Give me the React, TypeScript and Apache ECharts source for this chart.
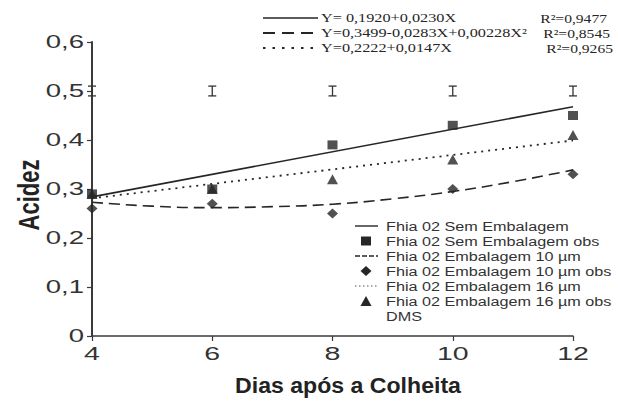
import React, { useEffect, useRef } from "react";
import * as echarts from "echarts";

const days = [4, 6, 8, 10, 12];
const semEmbObs = [0.29, 0.30, 0.39, 0.43, 0.45];
const emb10Obs = [0.26, 0.27, 0.25, 0.30, 0.33];
const emb16Obs = [0.29, 0.30, 0.32, 0.36, 0.41];

const semEmbFitX = [4, 12];
const semEmbFit = [0.284, 0.468];
const emb10FitX = [4, 5, 6, 7, 8, 9, 10, 11, 12];
const emb10Fit = [0.273, 0.265, 0.262, 0.264, 0.269, 0.280, 0.295, 0.315, 0.339];
const emb16FitX = [4, 12];
const emb16Fit = [0.281, 0.399];

const dmsLow = [0.49, 0.49, 0.49, 0.49, 0.49];
const dmsHigh = [0.51, 0.51, 0.51, 0.51, 0.51];

const xTicks = [4, 6, 8, 10, 12];
const xTickLabels = ["4", "6", "8", "10", "12"];
const yTicks = [0, 0.1, 0.2, 0.3, 0.4, 0.5, 0.6];
const yTickLabels = ["0", "0,1", "0,2", "0,3", "0,4", "0,5", "0,6"];

const xTitle = "Dias após a Colheita";
const yTitle = "Acidez";

const seriesNames = [
  "Fhia 02 Sem Embalagem",
  "Fhia 02 Sem Embalagem obs",
  "Fhia 02 Embalagem 10 µm",
  "Fhia 02 Embalagem 10 µm obs",
  "Fhia 02 Embalagem 16 µm",
  "Fhia 02 Embalagem 16 µm obs",
];
const dmsName = "DMS";

const equations = [
  "Y= 0,1920+0,0230X",
  "Y=0,3499-0,0283X+0,00228X²",
  "Y=0,2222+0,0147X",
];
const r2Labels = ["R²=0,9477", "R²=0,8545", "R²=0,9265"];

const INK = "#262626";
const SANS = "'Liberation Sans', Arial, sans-serif";
const SERIF = "'Liberation Serif', 'Times New Roman', serif";

export default function App() {
  const ref = useRef<HTMLDivElement>(null);
  useEffect(() => {
    if (!ref.current) return;
    const chart = echarts.init(ref.current, undefined, { renderer: "svg" });
    const zip = (xs: number[], ys: number[]) => xs.map((x, i) => [x, ys[i]]);

    chart.setOption({
      animation: false,
      backgroundColor: "#fff",
      grid: { left: 92, right: 45, top: 42, bottom: 67 },
      xAxis: {
        type: "value",
        min: 4,
        max: 12,
        interval: 2,
        splitLine: { show: false },
        axisLine: { lineStyle: { color: "#3a3a3a", width: 1.5 } },
        axisTick: { show: true, length: 5, lineStyle: { color: "#3a3a3a", width: 1.2 } },
        axisLabel: { show: false },
      },
      yAxis: {
        type: "value",
        min: 0,
        max: 0.6,
        interval: 0.1,
        splitLine: { show: false },
        axisLine: { show: true, lineStyle: { color: "#3a3a3a", width: 2 } },
        axisTick: { show: true, length: 5, lineStyle: { color: "#3a3a3a", width: 1.2 } },
        axisLabel: { show: false },
      },
      series: [
        {
          name: seriesNames[0],
          type: "line",
          data: zip(semEmbFitX, semEmbFit),
          symbol: "none",
          lineStyle: { color: INK, width: 1.6 },
          itemStyle: { color: INK },
        },
        {
          name: seriesNames[1],
          type: "scatter",
          data: zip(days, semEmbObs),
          symbol: "rect",
          symbolSize: [10, 9],
          itemStyle: { color: INK },
        },
        {
          name: seriesNames[2],
          type: "line",
          data: zip(emb10FitX, emb10Fit),
          smooth: true,
          symbol: "none",
          lineStyle: { color: INK, width: 1.6, type: [11, 6] },
          itemStyle: { color: INK },
        },
        {
          name: seriesNames[3],
          type: "scatter",
          data: zip(days, emb10Obs),
          symbol: "diamond",
          symbolSize: [11, 10],
          itemStyle: { color: INK },
        },
        {
          name: seriesNames[4],
          type: "line",
          data: zip(emb16FitX, emb16Fit),
          symbol: "none",
          lineStyle: { color: INK, width: 1.8, type: [2, 5] },
          itemStyle: { color: INK },
        },
        {
          name: seriesNames[5],
          type: "scatter",
          data: zip(days, emb16Obs),
          symbol: "triangle",
          symbolSize: [11, 10],
          itemStyle: { color: INK },
        },
        {
          name: dmsName,
          type: "custom",
          clip: false,
          data: days.map((d, i) => [d, dmsLow[i], dmsHigh[i]]),
          renderItem: (params: any, api: any) => {
            const x = api.value(0);
            const lo = api.coord([x, api.value(1)]);
            const hi = api.coord([x, api.value(2)]);
            const w = 4;
            const st = { stroke: "#333", lineWidth: 1.3 };
            return {
              type: "group",
              children: [
                { type: "line", shape: { x1: lo[0], y1: lo[1], x2: hi[0], y2: hi[1] }, style: st },
                { type: "line", shape: { x1: lo[0] - w, y1: lo[1], x2: lo[0] + w, y2: lo[1] }, style: st },
                { type: "line", shape: { x1: hi[0] - w, y1: hi[1], x2: hi[0] + w, y2: hi[1] }, style: st },
              ],
            };
          },
        },
      ],
    });

    const g: any[] = [];
    // tick labels, placed through the axes' own scales
    xTicks.forEach((v, i) => {
      const px = chart.convertToPixel({ xAxisIndex: 0 }, v) as number;
      g.push({
        type: "text",
        x: px,
        y: 353,
        scaleX: 1.5,
        style: { text: xTickLabels[i], fill: "#333", font: `19px ${SANS}`, align: "center", verticalAlign: "middle" },
      });
    });
    yTicks.forEach((v, i) => {
      const py = chart.convertToPixel({ yAxisIndex: 0 }, v) as number;
      g.push({
        type: "text",
        x: 84,
        y: py,
        scaleX: 1.45,
        style: { text: yTickLabels[i], fill: "#333", font: `19px ${SANS}`, align: "right", verticalAlign: "middle" },
      });
    });
    // axis titles
    g.push({
      type: "text",
      x: 348,
      y: 386,
      scaleX: 1.05,
      style: { text: xTitle, fill: "#222", font: `bold 22px ${SANS}`, align: "center", verticalAlign: "middle" },
    });
    g.push({
      type: "text",
      x: 29,
      y: 195,
      rotation: Math.PI / 2,
      scaleY: 1.3,
      style: { text: yTitle, fill: "#222", font: `bold 22px ${SANS}`, align: "center", verticalAlign: "middle" },
    });

    // equation block
    const eqRows = [18, 33, 48];
    const eqDash: any[] = [null, [12, 7], [2.5, 7]];
    eqRows.forEach((y, i) => {
      g.push({
        type: "line",
        shape: { x1: 263, y1: y, x2: 318, y2: y },
        style: { stroke: INK, lineWidth: i === 0 ? 1.6 : 2.2, lineDash: eqDash[i] },
      });
      g.push({
        type: "text",
        x: 321,
        y: y,
        scaleX: 1.25,
        style: { text: equations[i], fill: INK, font: `13px ${SERIF}`, verticalAlign: "middle", align: "left" },
      });
      g.push({
        type: "text",
        x: 607 + i * 3,
        y: y,
        scaleX: 1.2,
        style: { text: r2Labels[i], fill: INK, font: `13px ${SERIF}`, verticalAlign: "middle", align: "right" },
      });
    });

    // legend
    const lgTop = 226;
    const lgStep = 15;
    const lgTextX = 386;
    const iconX1 = 355;
    const iconX2 = 378;
    const iconC = 366;
    const legendIcon = (i: number, y: number) => {
      if (i === 0) return { type: "line", shape: { x1: iconX1, y1: y, x2: iconX2, y2: y }, style: { stroke: INK, lineWidth: 1.4 } };
      if (i === 2) return { type: "line", shape: { x1: iconX1, y1: y, x2: iconX2, y2: y }, style: { stroke: INK, lineWidth: 1.4, lineDash: [5, 2] } };
      if (i === 4) return { type: "line", shape: { x1: iconX1, y1: y, x2: iconX2, y2: y }, style: { stroke: "#555", lineWidth: 1.2, lineDash: [1.5, 2.5] } };
      if (i === 1) return { type: "rect", shape: { x: iconC - 5, y: y - 4.5, width: 10, height: 9 }, style: { fill: INK } };
      if (i === 3) return { type: "polygon", shape: { points: [[iconC, y - 5], [iconC + 5.5, y], [iconC, y + 5], [iconC - 5.5, y]] }, style: { fill: INK } };
      return { type: "polygon", shape: { points: [[iconC, y - 5], [iconC + 5.5, y + 5], [iconC - 5.5, y + 5]] }, style: { fill: INK } };
    };
    seriesNames.forEach((name, i) => {
      const y = lgTop + i * lgStep;
      g.push(legendIcon(i, y));
      g.push({
        type: "text",
        x: lgTextX,
        y: y,
        scaleX: 1.2,
        style: { text: name, fill: "#333", font: `13.5px ${SANS}`, verticalAlign: "middle", align: "left" },
      });
    });
    g.push({
      type: "text",
      x: lgTextX,
      y: lgTop + 6 * lgStep,
      scaleX: 1.2,
      style: { text: dmsName, fill: "#333", font: `13.5px ${SANS}`, verticalAlign: "middle", align: "left" },
    });

    chart.setOption({ graphic: g });
    return () => chart.dispose();
  }, []);
  return (
    <div
      ref={ref}
      style={{ position: "fixed", left: 0, top: 0, width: 618, height: 403, background: "#fff" }}
    />
  );
}
